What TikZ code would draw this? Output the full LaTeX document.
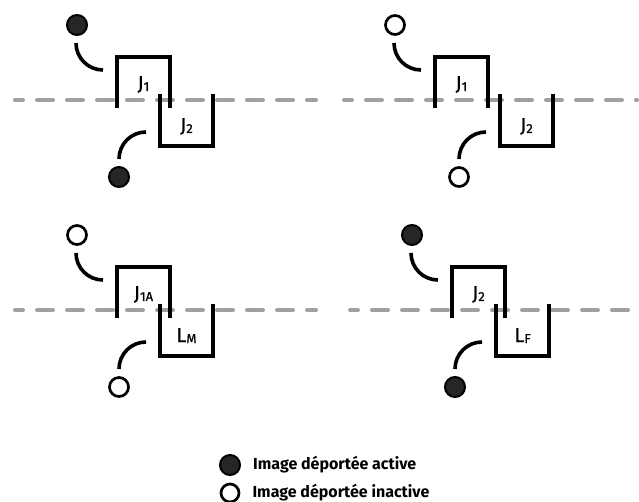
\documentclass[tikz,border=0pt]{standalone}
\usepackage{fontspec}
\setmainfont{Fira Sans}
\newfontfamily\etiqfont[FakeBold=0.7]{Fira Sans}
\usetikzlibrary{positioning}
\definecolor{gristrait}{HTML}{A0A0A0}
\definecolor{noirpion}{HTML}{262626}
\newcommand{\ind}[1]{\raisebox{-1pt}{\fontsize{13}{13}\selectfont #1}}
\begin{document}
\begin{tikzpicture}[x=1pt,y=-1pt,declare function={%
			l=53;
			h=51;
			rr=27;
			}
			]%
			\tikzset{
				trait/.style={line width=3.2pt,black},
				crochet/.style={line width=3.6pt,black},
				pointille/.style={gristrait,line width=4pt,line cap=round,dash pattern=on 16pt off 14pt,dash phase=8pt},
				actif/.style={circle,draw=black,line width=2pt,fill=noirpion,minimum size=20pt,inner sep=0pt},
				inactif/.style={circle,draw=black,line width=2.7pt,fill=white,minimum size=19pt,inner sep=0pt},
				etiquette/.style={font=\etiqfont\fontsize{20}{20}\selectfont,anchor=base,inner sep=0pt},
				legende/.style={font=\bfseries\fontsize{16}{16}\selectfont,anchor=west,inner sep=0pt},
				pics/paire/.style n args={5}{code={
					%%boite du haut et boite du bas
					\draw[trait] (0,h) -- (0,0) -- (l,0) -- (l,h);
					\draw[trait] (#1,37) -- (#1,89) -- (#1+l,89) -- (#1+l,37);
					\node[etiquette] (-e1) at (l/2,33) {#2};
					\node[etiquette] (-e2) at (#1+l/2,75) {#3};
					%%images deportees
					\node[#4] (-haut) at (-40,-32) {};
					\node[#5] (-bas) at (#1-41,120) {};
					\draw[crochet] (-haut) ++(-1,18) arc[start angle=180,end angle=90,radius=rr];
					\draw[crochet] (-bas) ++(rr,-45) arc[start angle=-90,end angle=-180,radius=rr];
				}}
			}
		\useasboundingbox (0,0) rectangle (639,502);
		%%%lignes pointillees
		\draw[pointille] (15,100) -- (316,100);
		\draw[pointille] (344,100) -- (637,100);
		\draw[pointille] (15,310) -- (316,310);
		\draw[pointille] (350,310) -- (628,310);
		%%%les quatre cas
		\path (117,57) pic (a) {paire={43}{J\ind{1}}{J\ind{2}}{actif}{actif}};
		\path (435,57) pic (b) {paire={65}{J\ind{1}}{J\ind{2}}{inactif}{inactif}};
		\path (117,267) pic (c) {paire={43}{J\ind{1A}}{L\ind{M}}{inactif}{inactif}};
		\path (452,267) pic (d) {paire={44}{J\ind{2}}{L\ind{F}}{actif}{actif}};
		%%%legende
		\node[actif,minimum size=20pt] (la) at (230,465) {};
		\node[legende,right=12pt of la] (ta) {Image déportée active};
		\node[inactif,minimum size=18pt] (li) at (230,493) {};
		\node[legende,right=12pt of li] (ti) {Image déportée inactive};
	\end{tikzpicture}
\end{document}
